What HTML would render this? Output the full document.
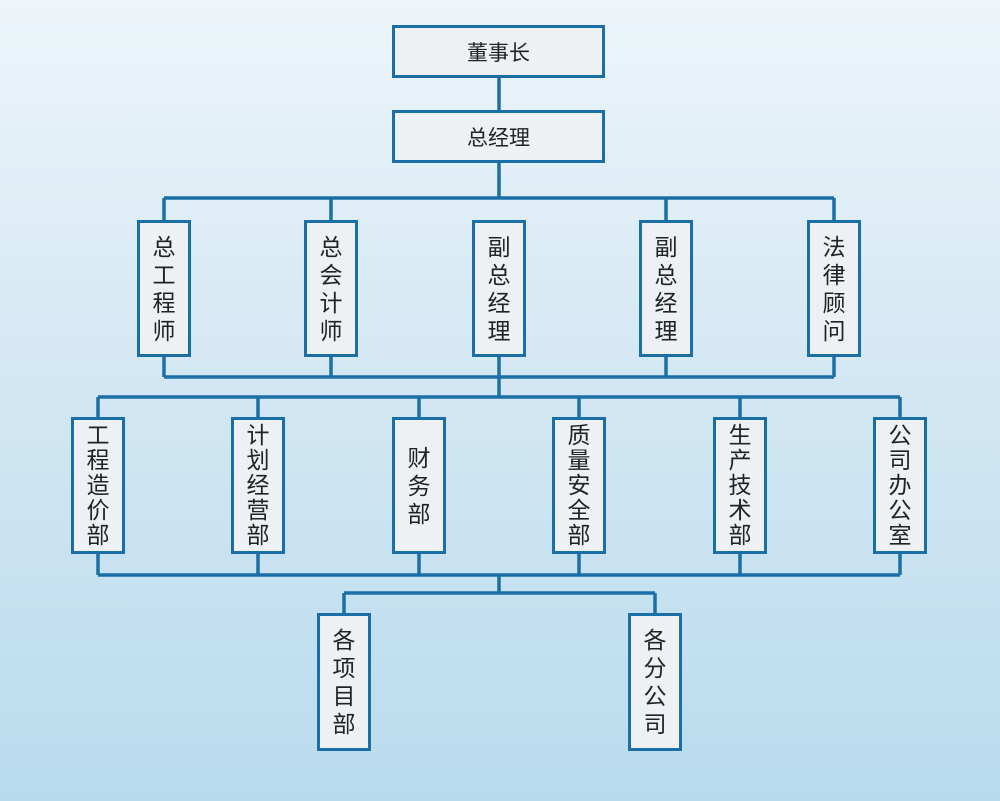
<!DOCTYPE html>
<html><head><meta charset="utf-8"><style>
body{margin:0;width:1000px;height:801px;overflow:hidden;background:linear-gradient(180deg,#edf5fa 0%,#d7e9f4 40%,#b9dbee 100%);font-family:"Liberation Sans","Noto Sans CJK SC",sans-serif;position:relative}
.b{position:absolute;box-sizing:border-box;border:3.5px solid #1a70a6;background:#edf1f4;color:#222;display:flex;align-items:center;justify-content:center;text-align:center}
.v{width:54px;height:137px;font-size:23px;line-height:28px}
.v5{line-height:25px}
.h{font-size:21px}
svg{position:absolute;left:0;top:0}
</style></head><body>
<svg width="1000" height="801"><g stroke="#1a70a6" stroke-width="3.5" fill="none">
<line x1="499" y1="77" x2="499" y2="111"/>
<line x1="499" y1="162" x2="499" y2="198"/>
<line x1="164" y1="198" x2="834" y2="198"/>
<line x1="164" y1="198" x2="164" y2="221"/><line x1="331" y1="198" x2="331" y2="221"/><line x1="666" y1="198" x2="666" y2="221"/><line x1="834" y1="198" x2="834" y2="221"/>
<line x1="164" y1="356" x2="164" y2="377"/><line x1="331" y1="356" x2="331" y2="377"/><line x1="499" y1="356" x2="499" y2="397"/><line x1="666" y1="356" x2="666" y2="377"/><line x1="834" y1="356" x2="834" y2="377"/>
<line x1="164" y1="377" x2="834" y2="377"/>
<line x1="98" y1="397" x2="900" y2="397"/>
<line x1="98" y1="397" x2="98" y2="419"/><line x1="258" y1="397" x2="258" y2="419"/><line x1="419" y1="397" x2="419" y2="419"/><line x1="579" y1="397" x2="579" y2="419"/><line x1="740" y1="397" x2="740" y2="419"/><line x1="900" y1="397" x2="900" y2="419"/>
<line x1="98" y1="553" x2="98" y2="575"/><line x1="258" y1="553" x2="258" y2="575"/><line x1="419" y1="553" x2="419" y2="575"/><line x1="579" y1="553" x2="579" y2="575"/><line x1="740" y1="553" x2="740" y2="575"/><line x1="900" y1="553" x2="900" y2="575"/>
<line x1="98" y1="575" x2="900" y2="575"/>
<line x1="499" y1="575" x2="499" y2="593"/>
<line x1="344" y1="593" x2="655" y2="593"/>
<line x1="344" y1="593" x2="344" y2="614"/><line x1="655" y1="593" x2="655" y2="614"/>
</g></svg>
<div class="b h" style="left:392px;top:25px;width:213px;height:53px">董事长</div>
<div class="b h" style="left:392px;top:110px;width:213px;height:53px">总经理</div>
<div class="b v" style="left:137px;top:220px">总<br>工<br>程<br>师</div>
<div class="b v" style="left:304px;top:220px">总<br>会<br>计<br>师</div>
<div class="b v" style="left:472px;top:220px">副<br>总<br>经<br>理</div>
<div class="b v" style="left:639px;top:220px">副<br>总<br>经<br>理</div>
<div class="b v" style="left:807px;top:220px">法<br>律<br>顾<br>问</div>
<div class="b v v5" style="left:71px;top:417px">工<br>程<br>造<br>价<br>部</div>
<div class="b v v5" style="left:231px;top:417px">计<br>划<br>经<br>营<br>部</div>
<div class="b v" style="left:392px;top:417px">财<br>务<br>部</div>
<div class="b v v5" style="left:552px;top:417px">质<br>量<br>安<br>全<br>部</div>
<div class="b v v5" style="left:713px;top:417px">生<br>产<br>技<br>术<br>部</div>
<div class="b v v5" style="left:873px;top:417px">公<br>司<br>办<br>公<br>室</div>
<div class="b v" style="left:317px;top:613px;height:138px">各<br>项<br>目<br>部</div>
<div class="b v" style="left:628px;top:613px;height:138px">各<br>分<br>公<br>司</div>
</body></html>
